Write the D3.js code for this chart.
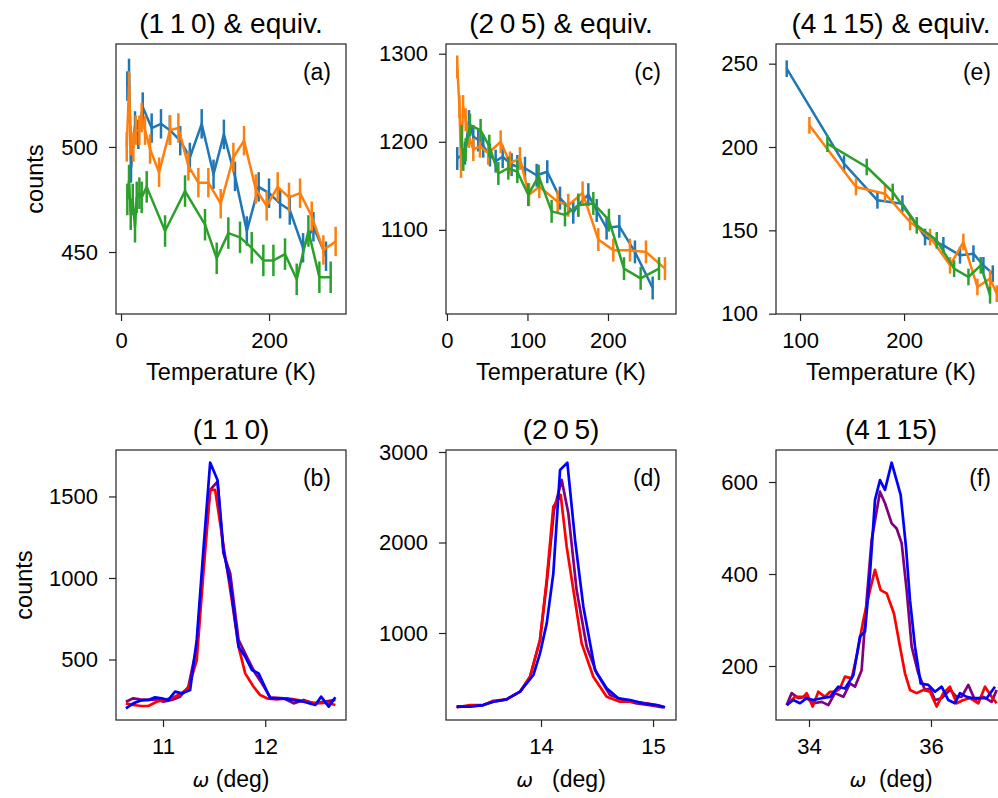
<!DOCTYPE html>
<html><head><meta charset="utf-8">
<script src="https://cdn.jsdelivr.net/npm/d3@7"></script>
<style>
body{margin:0;background:#fff}
text{font-family:"Liberation Sans",Arial,Helvetica,sans-serif;fill:#000}
</style>
</head><body><svg id="chart" width="998" height="798"></svg>
<script>
// ---------- DATA ----------
// Top row: temperature dependence [T (K), counts]
const a_blue = [[8.5,529],[10.8,535],[13.5,490],[18.9,510],[23.4,506],[29.3,519],[41.4,509],[54,511],[66,508],[80,503],[93,495],[109,511],[125,487],[139,506],[154,486],[170,460],[186,481],[200,478],[215,473],[228,470],[246,452],[260,462],[277,448]];
const a_orange = [[7.7,500],[10.8,529],[13.1,503],[16.7,500],[19.8,508],[24.8,508],[27.9,514],[32.4,508],[39.2,499],[51.4,488],[66.2,508],[77.5,509],[91,491],[104.5,483],[118,483],[134.7,473],[151.8,495],[166.2,503],[182,480],[196.8,472],[211.7,481],[227,476],[241.9,478],[257.7,467],[273.4,451],[290,455]];
const a_green = [[8.5,475],[10.8,484],[13.1,468],[15.8,475],[18.9,462],[21.2,476],[24.8,478],[27.9,476],[34.7,481],[59.5,460],[86.5,479],[113.5,463],[129.3,447],[145,459],[160.8,457],[176.6,452],[192.3,446],[205.9,446],[221.6,449],[237.4,437],[253.2,460],[268,438],[283.3,438]];
const a_err = [7, 7, 7.5];

const c_blue = [[12.8,1181],[18.2,1185],[22.4,1187],[27.3,1223],[32.7,1206],[38.9,1202],[45.1,1195],[53.4,1185],[60.5,1178],[69.2,1183],[80.3,1174],[87.4,1172],[96.9,1170],[111.4,1162],[124.6,1166],[140.4,1136],[156.9,1120],[163,1128],[175.6,1140],[186,1122],[198.3,1102],[214.1,1104],[233.5,1075],[255.5,1034]];
const c_orange = [[12.8,1285],[15.5,1240],[17.5,1172],[20,1240],[23.2,1225],[27.3,1206],[32.7,1191],[41,1195],[51.3,1187],[66.7,1200],[78.3,1176],[90.7,1181],[101.9,1140],[114.7,1149],[137.5,1132],[150.7,1128],[168.5,1142],[188,1089],[206.6,1077],[227.3,1077],[247.2,1075],[270.8,1056]];
const c_green = [[18.2,1206],[20.3,1180],[23.2,1191],[28.6,1219],[41.8,1213],[52.6,1195],[63.8,1164],[76.2,1170],[87.4,1166],[101,1140],[113.9,1161],[130,1121],[146.6,1117],[163.1,1128],[181.8,1130],[201.2,1111],[219.9,1056],[240.6,1045],[263.4,1056]];
const c_err = [13, 13, 13];

const e_blue = [[87.2,247],[142.3,190],[174.4,168],[198.4,166],[220.2,146],[237.8,141],[253.8,135],[266.7,136],[276.3,129],[285.3,124]];
const e_orange = [[109,213],[153.8,176],[181.7,172],[205.8,155],[225,146],[244.2,129],[257,143],[270.5,116],[282.7,121],[289.1,112]];
const e_green = [[126.3,202],[164.1,188],[189.1,173],[212.2,153],[231.4,144],[248.1,127],[261.9,122],[273.7,129],[282.7,111]];
const e_err = [5, 5, 5];

// Bottom row: rocking curves [omega (deg), counts]
const b_red = [[10.637,231],[10.709,221],[10.791,215],[10.856,215],[10.938,241],[11.003,252],[11.085,262],[11.167,288],[11.248,323],[11.330,497],[11.395,1029],[11.461,1540],[11.510,1540],[11.559,1335],[11.608,1131],[11.673,865],[11.739,579],[11.804,415],[11.886,333],[11.951,282],[12.016,262],[12.114,256],[12.212,262],[12.310,252],[12.409,241],[12.507,231],[12.605,235],[12.686,221]];
const b_purple = [[10.637,241],[10.709,262],[10.775,256],[10.856,252],[10.938,256],[11.003,241],[11.085,252],[11.167,272],[11.248,333],[11.330,579],[11.395,1110],[11.461,1540],[11.533,1591],[11.591,1151],[11.657,1029],[11.739,620],[11.820,517],[11.902,415],[11.967,354],[12.049,268],[12.180,262],[12.278,231],[12.376,252],[12.474,231],[12.572,241],[12.686,252]];
const b_blue = [[10.637,200],[10.709,231],[10.775,247],[10.856,252],[10.922,268],[10.987,262],[11.052,252],[11.118,303],[11.183,292],[11.265,313],[11.330,620],[11.395,1172],[11.461,1708],[11.533,1601],[11.591,1172],[11.657,967],[11.739,579],[11.804,517],[11.869,436],[11.935,415],[12.049,262],[12.163,262],[12.261,252],[12.376,241],[12.490,221],[12.546,272],[12.621,211],[12.686,268]];

const d_red = [[13.247,179],[13.366,204],[13.485,204],[13.574,252],[13.693,267],[13.813,352],[13.902,517],[13.991,923],[14.051,1586],[14.110,2396],[14.176,2525],[14.229,1954],[14.289,1475],[14.363,886],[14.467,517],[14.586,296],[14.705,241],[14.824,241],[14.943,223],[15.092,186]];
const d_purple = [[13.247,186],[13.366,193],[13.485,204],[13.574,241],[13.693,267],[13.813,352],[13.902,517],[13.991,923],[14.051,1549],[14.116,2359],[14.185,2691],[14.244,2322],[14.318,1475],[14.408,849],[14.497,554],[14.616,315],[14.735,260],[14.854,223],[14.973,204],[15.092,179]];
const d_blue = [[13.247,186],[13.366,186],[13.485,204],[13.574,241],[13.693,267],[13.813,352],[13.932,536],[13.991,775],[14.051,1107],[14.110,1659],[14.170,2801],[14.235,2882],[14.304,2028],[14.378,1291],[14.482,591],[14.586,389],[14.690,278],[14.795,260],[14.914,223],[15.033,204],[15.107,179]];

const f_red = [[33.634,115],[33.770,133],[33.907,133],[33.962,141],[34.060,112],[34.153,144],[34.262,133],[34.344,144],[34.426,144],[34.508,151],[34.590,177],[34.700,173],[34.792,228],[34.891,300],[35.000,365],[35.082,409],[35.175,365],[35.273,358],[35.393,314],[35.492,242],[35.574,184],[35.656,148],[35.765,141],[35.874,148],[35.984,144],[36.093,112],[36.202,141],[36.311,155],[36.421,119],[36.530,126],[36.639,130],[36.776,119],[36.885,155],[36.995,133],[37.077,119]];
const f_purple = [[33.634,115],[33.716,141],[33.825,130],[33.934,133],[34.071,119],[34.208,122],[34.317,115],[34.426,141],[34.563,133],[34.672,162],[34.754,155],[34.863,191],[34.945,343],[35.027,474],[35.164,579],[35.246,554],[35.355,510],[35.437,499],[35.519,467],[35.601,365],[35.683,242],[35.792,184],[35.902,148],[35.984,151],[36.066,126],[36.175,130],[36.311,148],[36.421,133],[36.503,133],[36.612,159],[36.721,126],[36.858,133],[36.995,122],[37.077,148]];
const f_blue = [[33.634,115],[33.743,126],[33.852,119],[33.962,130],[34.071,126],[34.208,130],[34.344,133],[34.481,155],[34.590,151],[34.727,180],[34.836,264],[34.918,275],[35.000,401],[35.082,561],[35.164,604],[35.246,583],[35.355,642],[35.503,572],[35.590,459],[35.656,343],[35.738,242],[35.831,162],[35.956,159],[36.066,144],[36.175,155],[36.284,126],[36.393,119],[36.475,141],[36.585,133],[36.694,130],[36.803,130],[36.913,130],[37.049,155]];

// Axis domains & ticks
const xDom_a = [-6.8, 304], yDom_a = [420.5, 549], xTicks_a = [0, 200], yTicks_a = [450, 500];
const xDom_c = [-1.2, 284.5], yDom_c = [1004.5, 1311], xTicks_c = [0, 100, 200], yTicks_c = [1100, 1200, 1300];
const xDom_e = [76.9, 298], yDom_e = [99.8, 261.8], xTicks_e = [100, 200], yTicks_e = [100, 150, 200, 250];
const xDom_b = [10.54, 12.79], yDom_b = [129, 1785], xTicks_b = [11, 12], yTicks_b = [500, 1000, 1500];
const xDom_d = [13.152, 15.205], yDom_d = [39, 3022], xTicks_d = [14, 15], yTicks_d = [1000, 2000, 3000];
const xDom_f = [33.459, 37.23], yDom_f = [82.6, 669.6], xTicks_f = [34, 36], yTicks_f = [200, 400, 600];

const topTitles = ["(1\u20091\u20090) & equiv.", "(2\u20090\u20095) & equiv.", "(4\u20091\u200915) & equiv."];
const bottomTitles = ["(1\u20091\u20090)", "(2\u20090\u20095)", "(4\u20091\u200915)"];
const topLetters = ["(a)", "(c)", "(e)"];
const bottomLetters = ["(b)", "(d)", "(f)"];
const topColors = ["#1f77b4", "#ff7f0e", "#2ca02c"];
const bottomColors = ["#800080", "#ff0000", "#0000ff"];

// ---------- DRAW ----------
const svg = d3.select("#chart");
svg.append("rect").attr("width", 998).attr("height", 798).attr("fill", "#fff");
const W = 230, H = 270;
const lefts = [116, 446, 776];
const tops = [44, 450];

function drawPanel(left, top, xDom, yDom, xTicks, yTicks, series, colors, errs, title, letter, lw) {
  const x = d3.scaleLinear().domain(xDom).range([left, left + W]);
  const y = d3.scaleLinear().domain(yDom).range([top + H, top]);
  const id = "clip" + left + "_" + top;
  svg.append("clipPath").attr("id", id).append("rect")
    .attr("x", left).attr("y", top).attr("width", W).attr("height", H);
  const g = svg.append("g").attr("clip-path", `url(#${id})`);
  const line = d3.line().x(d => x(d[0])).y(d => y(d[1]));
  series.forEach((s, i) => {
    if (errs) {
      g.append("g").selectAll("line").data(s).join("line")
        .attr("x1", d => x(d[0])).attr("x2", d => x(d[0]))
        .attr("y1", d => y(d[1] - errs[i])).attr("y2", d => y(d[1] + errs[i]))
        .attr("stroke", colors[i]).attr("stroke-width", lw);
    }
    g.append("path").datum(s).attr("d", line)
      .attr("fill", "none").attr("stroke", colors[i]).attr("stroke-width", lw)
      .attr("stroke-linejoin", "round");
  });
  // frame
  svg.append("rect").attr("x", left).attr("y", top).attr("width", W).attr("height", H)
    .attr("fill", "none").attr("stroke", "#222").attr("stroke-width", 1.2);
  const xa = svg.append("g").attr("transform", `translate(0,${top + H})`)
    .call(d3.axisBottom(x).tickValues(xTicks).tickSize(7).tickPadding(11).tickFormat(d3.format("d")));
  const ya = svg.append("g").attr("transform", `translate(${left},0)`)
    .call(d3.axisLeft(y).tickValues(yTicks).tickSize(7).tickPadding(11).tickFormat(d3.format("d")));
  [xa, ya].forEach(a => {
    a.select(".domain").remove();
    a.selectAll(".tick line").attr("stroke", "#222").attr("stroke-width", 1.2);
    a.selectAll(".tick text").attr("font-size", 22).attr("font-family", "Liberation Sans, Arial, sans-serif").attr("fill", "#000");
  });
  svg.append("text").attr("x", left + W / 2).attr("y", top - 11)
    .attr("text-anchor", "middle").attr("font-size", 28).text(title);
  svg.append("text").attr("x", left + W - 15).attr("y", top + 36)
    .attr("text-anchor", "end").attr("font-size", 23).text(letter);
}

drawPanel(lefts[0], tops[0], xDom_a, yDom_a, xTicks_a, yTicks_a, [a_blue, a_orange, a_green], topColors, a_err, topTitles[0], topLetters[0], 2.5);
drawPanel(lefts[1], tops[0], xDom_c, yDom_c, xTicks_c, yTicks_c, [c_blue, c_orange, c_green], topColors, c_err, topTitles[1], topLetters[1], 2.5);
drawPanel(lefts[2], tops[0], xDom_e, yDom_e, xTicks_e, yTicks_e, [e_blue, e_orange, e_green], topColors, e_err, topTitles[2], topLetters[2], 2.5);
drawPanel(lefts[0], tops[1], xDom_b, yDom_b, xTicks_b, yTicks_b, [b_purple, b_red, b_blue], bottomColors, null, bottomTitles[0], bottomLetters[0], 2.7);
drawPanel(lefts[1], tops[1], xDom_d, yDom_d, xTicks_d, yTicks_d, [d_purple, d_red, d_blue], bottomColors, null, bottomTitles[1], bottomLetters[1], 2.7);
drawPanel(lefts[2], tops[1], xDom_f, yDom_f, xTicks_f, yTicks_f, [f_purple, f_red, f_blue], bottomColors, null, bottomTitles[2], bottomLetters[2], 2.7);

// axis labels
lefts.forEach(l => {
  svg.append("text").attr("x", l + W / 2).attr("y", 380).attr("text-anchor", "middle")
    .attr("font-size", 23.5).text("Temperature (K)");
});
const omegaGaps = [" (deg)", "   (deg)", "  (deg)"];
lefts.forEach((l, i) => {
  const t = svg.append("text").attr("x", l + W / 2).attr("y", 787).attr("text-anchor", "middle")
    .attr("font-size", 23).attr("xml:space", "preserve").style("white-space", "pre");
  t.append("tspan").attr("font-style", "italic").attr("font-family", "DejaVu Sans").attr("font-size", 20).text("ω");
  t.append("tspan").text(omegaGaps[i]);
});
svg.append("text").attr("transform", "translate(43,179) rotate(-90)").attr("text-anchor", "middle")
  .attr("font-size", 23.5).text("counts");
svg.append("text").attr("transform", "translate(32,585) rotate(-90)").attr("text-anchor", "middle")
  .attr("font-size", 23.5).text("counts");
</script>
</body></html>
